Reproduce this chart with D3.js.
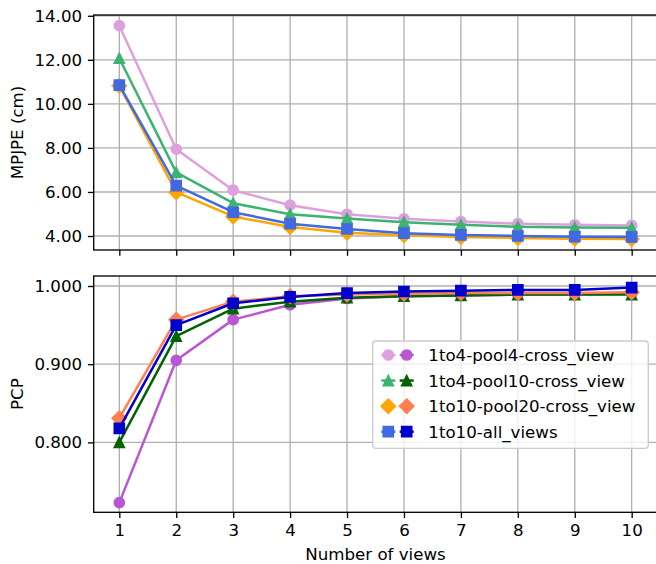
<!DOCTYPE html>
<html><head><meta charset="utf-8">
<script src="https://cdn.jsdelivr.net/npm/d3@7"></script>
<style>
body{margin:0;background:#fff;}
svg{display:block;font-family:"DejaVu Sans",sans-serif;}
</style></head>
<body>
<svg id="chart" width="656" height="564"></svg>
<script>
const views = [1,2,3,4,5,6,7,8,9,10];
const seriesNames = ["1to4-pool4-cross_view","1to4-pool10-cross_view","1to10-pool20-cross_view","1to10-all_views"];
const mpjpePool4   = [13.55,7.94,6.08,5.40,4.99,4.78,4.66,4.56,4.51,4.48];
const mpjpePool10  = [12.07,6.89,5.49,4.99,4.80,4.63,4.51,4.42,4.39,4.37];
const mpjpePool20  = [10.82,5.99,4.89,4.41,4.15,4.03,3.96,3.91,3.88,3.86];
const mpjpeAll     = [10.85,6.29,5.08,4.56,4.32,4.13,4.05,4.00,3.97,3.96];
const pcpPool4  = [0.723,0.905,0.957,0.976,0.984,0.987,0.988,0.989,0.989,0.990];
const pcpPool10 = [0.800,0.936,0.971,0.980,0.985,0.987,0.988,0.989,0.989,0.989];
const pcpPool20 = [0.831,0.957,0.980,0.987,0.989,0.990,0.991,0.991,0.991,0.992];
const pcpAll    = [0.818,0.950,0.978,0.986,0.991,0.993,0.994,0.995,0.995,0.998];
const mpjpeTicks = [4,6,8,10,12,14];
const pcpTicks = [0.8,0.9,1.0];
const topColors = ["#DDA0DD","#3CB371","#FFA500","#4169E1"];
const botColors = ["#BA55D3","#006400","#FF7F50","#0000CD"];
const shapes = ["circle","triangle","diamond","square"];

const svg = d3.select("#chart");
const FS = 16.67;
const left = 93.7, right = 657.3;
const x = d3.scaleLinear().domain([0.55,10.45]).range([left,right]);

function markerPath(shape, s){
  const h = s/2;
  if(shape==="circle") return `M${h},0A${h},${h} 0 1,1 ${-h},0A${h},${h} 0 1,1 ${h},0Z`;
  if(shape==="square") return `M${-h},${-h}H${h}V${h}H${-h}Z`;
  if(shape==="triangle") return `M0,${-h}L${h},${h}L${-h},${h}Z`;
  const d = s*0.7071;
  return `M0,${-d}L${d},0L0,${d}L${-d},0Z`;
}

function panel(top, bottom, domain, ticks, fmt, data, colors, showXLabels, ylabel){
  const y = d3.scaleLinear().domain(domain).range([bottom, top]);
  const g = svg.append("g");
  // grid
  g.append("g").selectAll("line").data(views).join("line")
    .attr("x1",d=>x(d)).attr("x2",d=>x(d)).attr("y1",top).attr("y2",bottom)
    .attr("stroke","#b0b0b0").attr("stroke-width",1.33);
  g.append("g").selectAll("line").data(ticks).join("line")
    .attr("x1",left).attr("x2",right).attr("y1",d=>y(d)).attr("y2",d=>y(d))
    .attr("stroke","#b0b0b0").attr("stroke-width",1.33);
  // clip
  const cid = "clip"+Math.round(top);
  svg.append("clipPath").attr("id",cid).append("rect")
    .attr("x",left).attr("y",top).attr("width",right-left).attr("height",bottom-top);
  const pg = g.append("g").attr("clip-path",`url(#${cid})`);
  const line = d3.line().x((d,i)=>x(views[i])).y(d=>y(d));
  data.forEach((vals,k)=>{
    pg.append("path").attr("d",line(vals)).attr("fill","none")
      .attr("stroke",colors[k]).attr("stroke-width",2.5).attr("stroke-linejoin","round");
    pg.append("g").selectAll("path").data(vals).join("path")
      .attr("transform",(d,i)=>`translate(${x(views[i])},${y(d)})`)
      .attr("d",markerPath(shapes[k],10))
      .attr("fill",colors[k]).attr("stroke",colors[k]).attr("stroke-width",1.67);
  });
  // axes
  const ya = d3.axisLeft(y).tickValues(ticks).tickFormat(d3.format(fmt)).tickSize(5.8).tickPadding(5.8);
  const yg = g.append("g").attr("transform",`translate(${left},0)`).call(ya);
  const xa = d3.axisBottom(x).tickValues(views).tickSize(5.8).tickPadding(5.8)
    .tickFormat(showXLabels ? d3.format("d") : ()=> "");
  const xg = g.append("g").attr("transform",`translate(0,${bottom})`).call(xa);
  [yg,xg].forEach(a=>{
    a.select(".domain").remove();
    a.selectAll("line").attr("stroke","#000").attr("stroke-width",1.33);
    a.selectAll("text").attr("font-size",FS).attr("font-family","DejaVu Sans").attr("fill","#000");
  });
  // spines
  g.append("rect").attr("x",left).attr("y",top).attr("width",right-left).attr("height",bottom-top)
    .attr("fill","none").attr("stroke","#000").attr("stroke-width",1.33);
  g.append("text").attr("transform",`translate(22.5,${(top+bottom)/2}) rotate(-90)`)
    .attr("text-anchor","middle").attr("font-size",FS).text(ylabel);
  return y;
}

panel(15, 250, [3.365,14.035], mpjpeTicks, ".2f",
  [mpjpePool4,mpjpePool10,mpjpePool20,mpjpeAll], topColors, false, "MPJPE (cm)");
panel(276, 512.3, [0.7106,1.0128], pcpTicks, ".3f",
  [pcpPool4,pcpPool10,pcpPool20,pcpAll], botColors, true, "PCP");

svg.append("text").attr("x",x(5.5)).attr("y",559.5).attr("text-anchor","middle")
  .attr("font-size",FS).text("Number of views");

// legend
const lg = svg.append("g");
lg.append("rect").attr("x",372.7).attr("y",341).attr("width",275.6).attr("height",107.3)
  .attr("rx",3.3).attr("fill","#fff").attr("fill-opacity",0.8).attr("stroke","#cccccc").attr("stroke-width",1.33);
const rowY = d3.scaleLinear().domain([0,3]).range([355,431.7]);
seriesNames.forEach((name,k)=>{
  const yy = rowY(k);
  [[388.3,topColors[k]],[406.7,botColors[k]]].forEach(([cx,c])=>{
    lg.append("line").attr("x1",cx-7).attr("x2",cx+7).attr("y1",yy).attr("y2",yy)
      .attr("stroke",c).attr("stroke-width",2.5);
    lg.append("path").attr("transform",`translate(${cx},${yy})`).attr("d",markerPath(shapes[k],10))
      .attr("fill",c).attr("stroke",c).attr("stroke-width",1.67);
  });
  lg.append("text").attr("x",428.3).attr("y",yy).attr("dy","0.36em").attr("font-size",FS).text(name);
});
</script>
</body></html>
